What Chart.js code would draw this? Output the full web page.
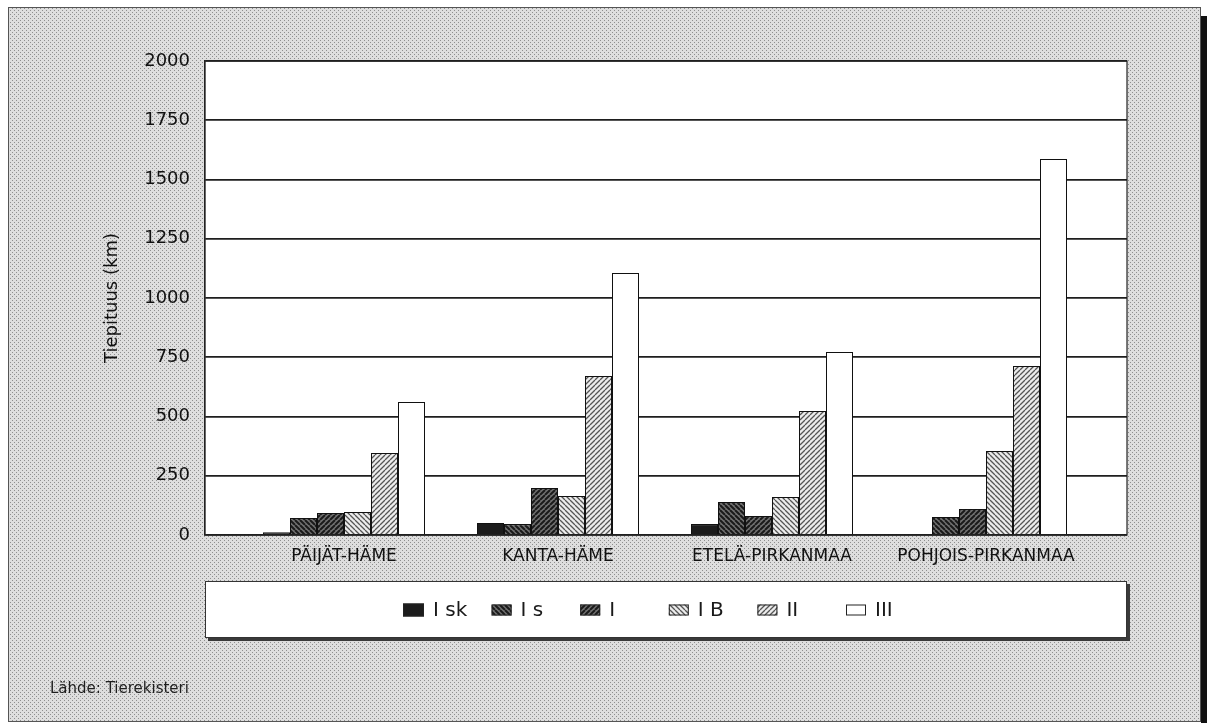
<!DOCTYPE html>
<html>
<head>
<meta charset="utf-8">
<script src="https://cdn.jsdelivr.net/npm/chart.js@4/dist/chart.umd.min.js"></script>
<style>
  html, body { margin: 0; padding: 0; background: #fff; }
  #wrap { width: 1207px; height: 723px; }
</style>
</head>
<body>
<div id="wrap"><canvas id="chart" width="1207" height="723"></canvas></div>
<script>
// Tiepituus (km) per alue ja tieluokka
const categories = ['PÄIJÄT-HÄME', 'KANTA-HÄME', 'ETELÄ-PIRKANMAA', 'POHJOIS-PIRKANMAA'];
const seriesNames = ['I sk', 'I s', 'I', 'I B', 'II', 'III'];
const valuesIsk = [12, 51, 46, 0];
const valuesIs = [72, 46, 139, 76];
const valuesI = [93, 198, 80, 110];
const valuesIB = [97, 165, 160, 354];
const valuesII = [346, 671, 523, 713];
const valuesIII = [561, 1105, 772, 1586];
const yTicks = [0, 250, 500, 750, 1000, 1250, 1500, 1750, 2000];
const sourceText = 'Lähde: Tierekisteri';

const FONT = '"DejaVu Sans", Arial, sans-serif';

// kuviot pylväisiin
function makeHatch(bg, fg, dir, size, lw) {
    const c = document.createElement('canvas');
    c.width = size; c.height = size;
    const g = c.getContext('2d');
    g.fillStyle = bg;
    g.fillRect(0, 0, size, size);
    g.strokeStyle = fg;
    g.lineWidth = lw;
    g.beginPath();
    for (let k = -1; k <= 1; k++) {
        if (dir === '\\') {
            g.moveTo(k * size, 0); g.lineTo(k * size + size, size);
        } else {
            g.moveTo(k * size, size); g.lineTo(k * size + size, 0);
        }
    }
    g.stroke();
    return g.createPattern(c, 'repeat');
}

// pisterasteri taustalle
function makeStipple() {
    const c = document.createElement('canvas');
    c.width = 4; c.height = 4;
    const g = c.getContext('2d');
    g.fillStyle = '#dedede';
    g.fillRect(0, 0, 4, 4);
    g.fillStyle = '#8e8e8e';
    g.fillRect(0, 0, 1, 1);
    g.fillRect(2, 2, 1, 1);
    return g.createPattern(c, 'repeat');
}

const ctx0 = document.getElementById('chart').getContext('2d');
const fills = [
    '#1c1c1c',
    makeHatch('#707070', '#1a1a1a', '\\', 5, 2),
    makeHatch('#707070', '#1a1a1a', '/', 5, 2),
    makeHatch('#ececec', '#555555', '\\', 5, 1.3),
    makeHatch('#ececec', '#555555', '/', 5, 1.3),
    '#ffffff'
];
const stipple = makeStipple();

const allValues = [valuesIsk, valuesIs, valuesI, valuesIB, valuesII, valuesIII];

const datasets = seriesNames.map((name, s) => ({
    label: name,
    data: allValues[s].map((v, i) => ({ x: i, y: v })),
    backgroundColor: fills[s],
    borderColor: '#111111',
    borderWidth: 1,
    categoryPercentage: 0.757,
    barPercentage: 1.0
}));

// tausta, kehys, selite ja lähde
const framePlugin = {
    id: 'frame',
    beforeDraw(chart) {
        const c = chart.ctx;
        const a = chart.chartArea;
        c.save();
        // varjo oikealla
        c.fillStyle = '#111111';
        c.fillRect(1201, 16, 6, 707);
        c.fillStyle = stipple;
        c.fillRect(8, 7, 1193, 715);
        c.strokeStyle = '#555555';
        c.lineWidth = 1;
        c.strokeRect(8.5, 7.5, 1192, 714);
        // kuvaaja-alue
        c.fillStyle = '#ffffff';
        c.fillRect(a.left, a.top, a.right - a.left, a.bottom - a.top);
        c.restore();
    },
    afterDraw(chart) {
        const c = chart.ctx;
        const a = chart.chartArea;
        c.save();
        c.strokeStyle = '#222222';
        c.lineWidth = 1.2;
        c.strokeRect(a.left, a.top, a.right - a.left, a.bottom - a.top);

        // selitelaatikko
        const lx = a.left, ly = 581, lw = a.right - a.left, lh = 57;
        c.fillStyle = '#3a3a3a';
        c.fillRect(lx + 3, ly + 3, lw, lh);
        c.fillStyle = '#ffffff';
        c.fillRect(lx, ly, lw, lh);
        c.strokeStyle = '#333333';
        c.lineWidth = 1;
        c.strokeRect(lx + 0.5, ly + 0.5, lw - 1, lh - 1);

        const startX = 403, step = 88.6, midY = 610;
        c.font = '20px ' + FONT;
        c.textBaseline = 'middle';
        c.textAlign = 'left';
        chart.data.datasets.forEach((ds, i) => {
            const bx = startX + i * step;
            const bw = i === 0 ? 21 : 20;
            const bh = i === 0 ? 13 : 11;
            c.fillStyle = ds.backgroundColor;
            c.fillRect(bx, midY - bh / 2, bw, bh);
            c.strokeStyle = '#222222';
            c.lineWidth = 1;
            c.strokeRect(bx + 0.5, midY - bh / 2 + 0.5, bw - 1, bh - 1);
            c.fillStyle = '#1a1a1a';
            c.fillText(ds.label, bx + bw + 9, midY + 1);
        });

        // lähde
        c.font = '15px ' + FONT;
        c.fillStyle = '#1e1e1e';
        c.textBaseline = 'alphabetic';
        c.fillText(sourceText, 50, 693);
        c.restore();
    }
};

new Chart(ctx0, {
    type: 'bar',
    data: { datasets },
    options: {
        responsive: false,
        animation: false,
        layout: { padding: { left: 0, right: 80, top: 61, bottom: 0 } },
        plugins: {
            legend: { display: false },
            tooltip: { enabled: false }
        },
        scales: {
            x: {
                type: 'linear',
                offset: false,
                min: -0.5 - 32 / 214,
                max: categories.length - 0.5 + 34 / 214,
                afterBuildTicks(axis) {
                    axis.ticks = categories.map((c, i) => ({ value: i }));
                },
                afterFit(axis) { axis.height = 188; },
                grid: { display: false, drawTicks: false, offset: false },
                border: { display: false },
                ticks: {
                    padding: 11,
                    autoSkip: false,
                    maxRotation: 0,
                    color: '#111111',
                    font: { family: FONT, size: 17 },
                    callback: (v) => categories[v]
                }
            },
            y: {
                min: 0,
                max: 2000,
                afterBuildTicks(axis) {
                    axis.ticks = yTicks.map(v => ({ value: v }));
                },
                afterFit(axis) { axis.width = 205; },
                grid: { color: '#1e1e1e', lineWidth: 1.8, drawTicks: false },
                border: { display: true, color: '#222222', width: 1.2 },
                ticks: {
                    padding: 15,
                    color: '#111111',
                    font: { family: FONT, size: 18 },
                    callback: (v) => String(v)
                },
                title: {
                    display: true,
                    text: 'Tiepituus (km)',
                    color: '#111111',
                    font: { family: FONT, size: 18 },
                    padding: { top: 102, bottom: 0 }
                }
            }
        }
    },
    plugins: [framePlugin]
});
</script>
</body>
</html>
